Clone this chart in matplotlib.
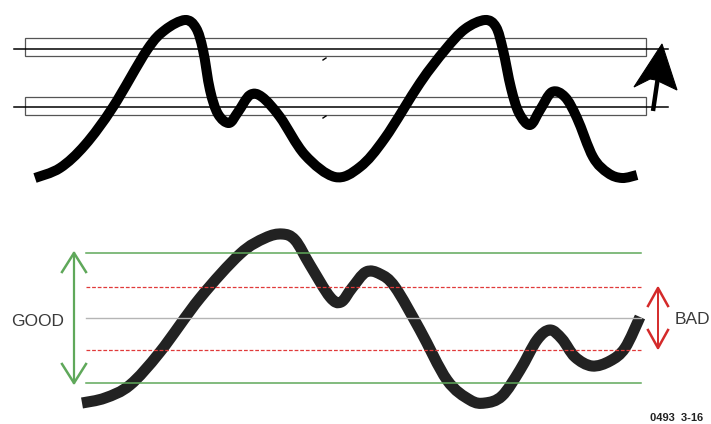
import matplotlib
matplotlib.use("Agg")
import numpy as np
import matplotlib.pyplot as plt
from matplotlib.patches import Rectangle, Polygon, PathPatch
from matplotlib.path import Path

# ---- data (pixel coordinates) ----
top_x = [35, 60, 85, 113, 147, 165, 185, 196, 203, 210, 218, 229, 238, 250, 262, 280, 305, 335, 360,
         385, 420, 445, 465, 485, 496, 503, 511, 519, 530, 540, 552, 565, 577, 593, 608, 622, 637]
top_y = [178, 168, 145, 107, 50, 30, 20, 28, 50, 90, 114, 123, 112, 95, 97, 117, 155, 177, 167,
         138, 83, 50, 29, 20, 27, 50, 88, 113, 125, 110, 92, 97, 118, 157, 173, 178, 175]

bot_x = [82, 105, 130, 160, 200, 240, 265, 282, 295, 310, 330, 341, 352, 366, 380, 395, 420, 447,
         470, 485, 502, 520, 537, 550, 562, 575, 592, 610, 625, 640]
bot_y = [403, 398, 385, 352, 298, 254, 238, 234, 240, 265, 297, 302, 288, 272, 274, 287, 330, 380,
         400, 403, 396, 370, 340, 330, 339, 357, 366, 361, 348, 317]

band_top = [38, 97]        # rectangle top edges (upper panel)
band_bottom = [56, 115]    # rectangle bottom edges
band_mid = [49, 107]       # centre lines
good_lines = [253, 383]    # green limit lines
bad_lines = [287, 350]     # red dashed limit lines
centre_line = 318
labels = ["GOOD", "BAD"]
code_label = "0493  3-16"


def smooth_path(xs, ys):
    """Bezier path through the read points (Catmull-Rom tangents), drawn by matplotlib."""
    p = np.column_stack([xs, ys]).astype(float)
    verts = [p[0]]
    codes = [Path.MOVETO]
    n = len(p)
    for i in range(n - 1):
        p0 = p[i - 1] if i > 0 else p[i]
        p1, p2 = p[i], p[i + 1]
        p3 = p[i + 2] if i + 2 < n else p[i + 1]
        c1 = p1 + (p2 - p0) / 6.0
        c2 = p2 - (p3 - p1) / 6.0
        verts += [c1, c2, p2]
        codes += [Path.CURVE4] * 3
    return Path(verts, codes)


# ---- figure ----
fig = plt.figure(figsize=(7.11, 4.24), dpi=100)
ax = fig.add_axes([0, 0, 1, 1])
ax.set_xlim(0, 711)
ax.set_ylim(424, 0)
ax.axis("off")

# upper panel: bands
for t, b, m in zip(band_top, band_bottom, band_mid):
    ax.add_patch(Rectangle((25, t), 646 - 25, b - t, fill=False, ec="#555555", lw=0.9))
    ax.plot([14, 668], [m, m], color="black", lw=1.1)
for m in band_mid:
    ax.plot([323, 326], [m + 11, m + 9], color="black", lw=1.0)

ax.add_patch(PathPatch(smooth_path(top_x, top_y), fill=False, ec="black", lw=7.2,
                       capstyle="butt", joinstyle="round"))

# arrow in upper panel
ax.plot([653, 659], [111, 70], color="black", lw=3.2, solid_capstyle="butt")
ax.add_patch(Polygon([[662, 44], [634, 87], [650, 79], [656, 80], [677, 90]], closed=True,
                     fc="black", ec="black", lw=0.8))

# lower panel lines
for y in good_lines:
    ax.plot([86, 641], [y, y], color="#5fa85a", lw=1.1)
for y in bad_lines:
    ax.plot([86, 641], [y, y], color="#e03a3a", lw=0.9, ls=(0, (3, 1.5)))
ax.plot([86, 641], [centre_line, centre_line], color="#b5b5b5", lw=1.0)

ax.add_patch(PathPatch(smooth_path(bot_x, bot_y), fill=False, ec="#222222", lw=8.0,
                       capstyle="butt", joinstyle="round"))

# GOOD double arrow (green)
gx = 74
ax.plot([gx, gx], [good_lines[0], good_lines[1]], color="#5fa85a", lw=1.6)
ax.plot([gx - 12, gx, gx + 12], [good_lines[0] + 19, good_lines[0], good_lines[0] + 19], color="#5fa85a", lw=1.8)
ax.plot([gx - 12, gx, gx + 12], [good_lines[1] - 19, good_lines[1], good_lines[1] - 19], color="#5fa85a", lw=1.8)

# BAD double arrow (red)
rx = 658
ax.plot([rx, rx], [288, 348], color="#d42a2a", lw=1.4)
ax.plot([rx - 10, rx, rx + 10], [306, 288, 306], color="#d42a2a", lw=1.8)
ax.plot([rx - 10, rx, rx + 10], [330, 348, 330], color="#d42a2a", lw=1.8)

narrow = ["Liberation Sans Narrow", "Liberation Sans", "DejaVu Sans"]
ax.text(38, 321, labels[0], fontsize=12.5, color="#3a3a3a", ha="center", va="center", family=narrow)
ax.text(675, 319, labels[1], fontsize=12.5, color="#3a3a3a", ha="left", va="center", family=narrow)
ax.text(650, 418, code_label, fontsize=8, color="#222222", ha="left", va="center",
        family=narrow, fontweight="bold")

fig.savefig("out.png", dpi=100)
